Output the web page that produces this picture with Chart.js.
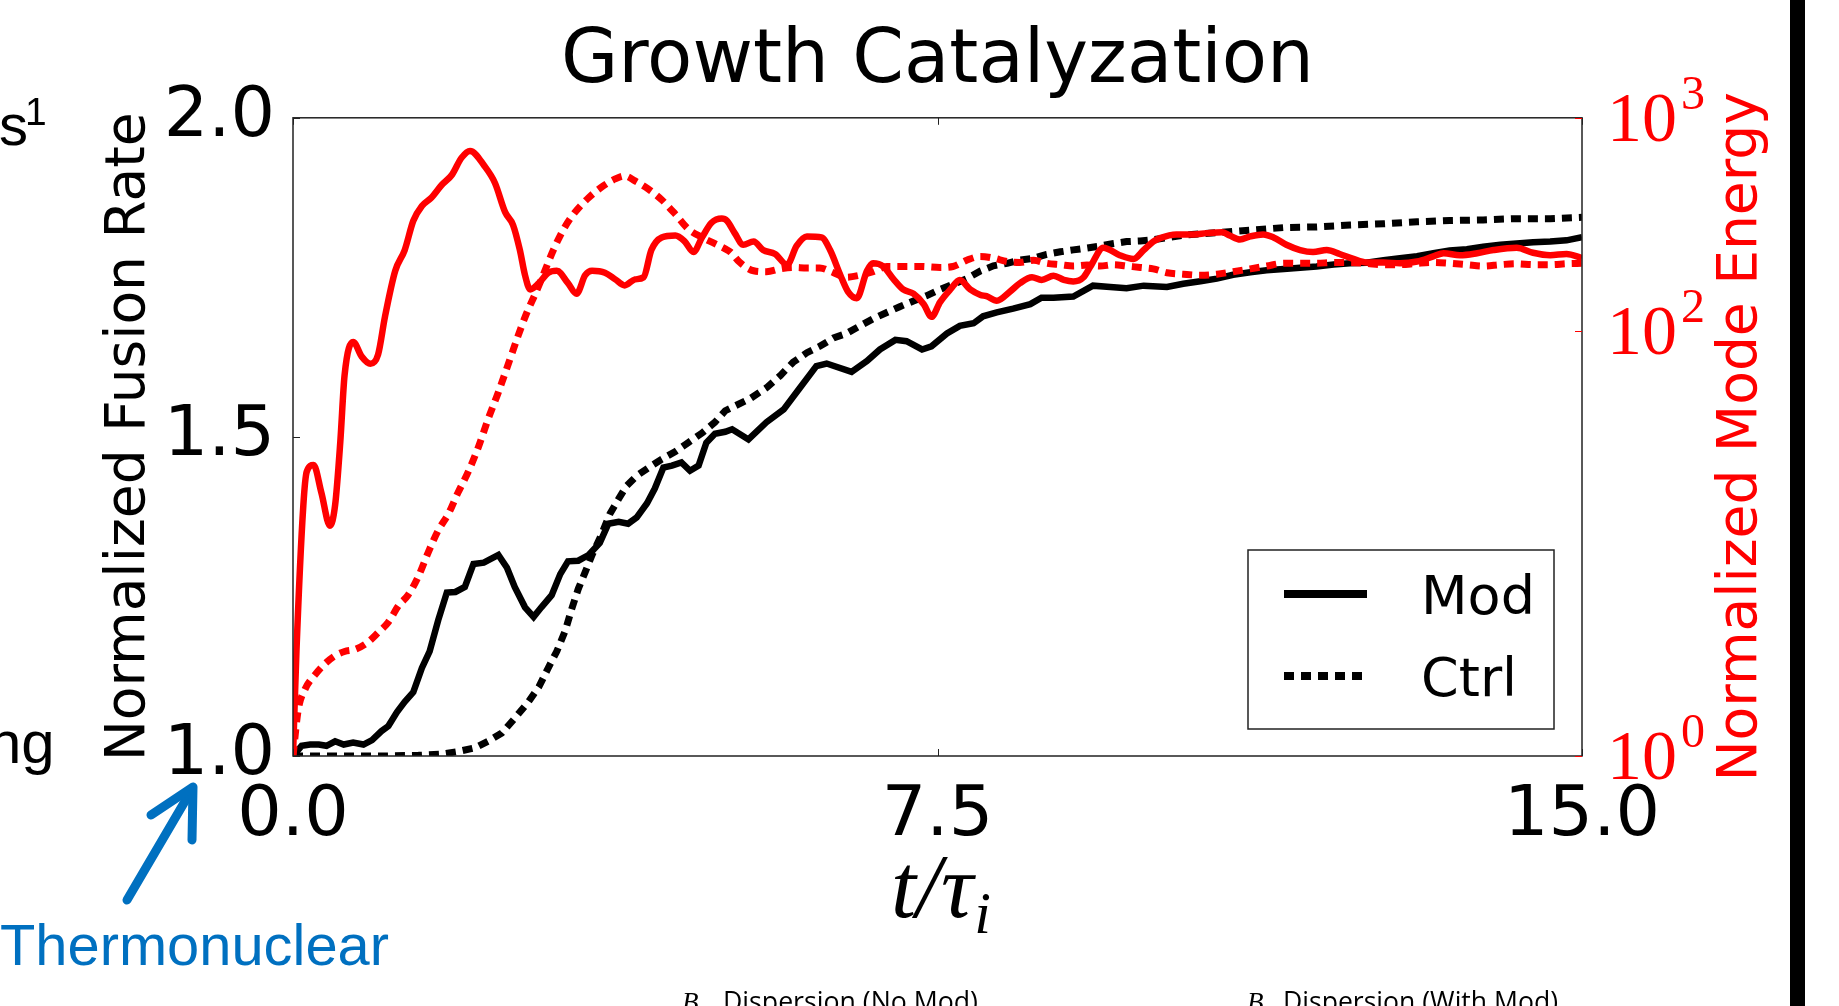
<!DOCTYPE html>
<html>
<head>
<meta charset="utf-8">
<title>Growth Catalyzation</title>
<script src="https://cdn.jsdelivr.net/npm/chart.js@4.4.1/dist/chart.umd.min.js"></script>
<style>
  html, body { margin: 0; padding: 0; background: #fff; }
  #wrap { position: relative; width: 1839px; height: 1006px; overflow: hidden; }
  #myChart { position: absolute; left: 0; top: 0; }
  #slide { position: absolute; left: 0; top: 0; pointer-events: none; }
</style>
</head>
<body>
<div id="wrap">
  <canvas id="myChart" width="1839" height="1006"></canvas>
  <svg id="slide" width="1839" height="1006" xmlns="http://www.w3.org/2000/svg">
    <text x="-1" y="145" font-family="Liberation Sans, Arial, sans-serif" font-size="58">s</text>
    <text x="25" y="125" font-family="Liberation Sans, Arial, sans-serif" font-size="39">1</text>
    <text x="-12" y="763" font-family="Liberation Sans, Arial, sans-serif" font-size="60">ng</text>
    <text x="0" y="965" font-family="Liberation Sans, Arial, sans-serif" font-size="58" fill="#0070c0"
          textLength="389" lengthAdjust="spacingAndGlyphs">Thermonuclear</text>
    <g stroke="#0070c0" stroke-width="9" stroke-linecap="round" stroke-linejoin="round" fill="none">
      <line x1="127" y1="900" x2="191" y2="791"/>
      <polyline points="151,815 193,787 192,840"/>
    </g>
    <text x="682" y="1011" font-family="Liberation Serif, serif" font-style="italic" font-size="27">B</text>
    <text x="723" y="1011" font-family="Open Sans, sans-serif" font-size="28"
          textLength="255" lengthAdjust="spacingAndGlyphs">Dispersion (No Mod)</text>
    <text x="1247" y="1011" font-family="Liberation Serif, serif" font-style="italic" font-size="27">B</text>
    <text x="1283" y="1011" font-family="Open Sans, sans-serif" font-size="28"
          textLength="275" lengthAdjust="spacingAndGlyphs">Dispersion (With Mod)</text>
    <rect x="1790" y="0" width="15" height="1006" fill="#000"/>
  </svg>
</div>
<script>
// Mode energy (right, log axis) and fusion rate (left axis) against t / tau_i

const modEnergyT = [0, 0.04, 0.12, 0.16, 0.24, 0.33, 0.43, 0.49, 0.55, 0.6, 0.7, 0.8, 0.9, 0.99, 1.07, 1.19, 1.3, 1.4, 1.5, 1.61,
    1.73, 1.85, 1.96, 2.06, 2.23, 2.35, 2.47, 2.56, 2.64, 2.7, 2.76, 2.86, 2.97, 3.07, 3.2, 3.3, 3.4, 3.48, 3.63, 3.75,
    3.86, 3.98, 4.08, 4.17, 4.29, 4.45, 4.56, 4.66, 4.76, 4.87, 4.99, 5.05, 5.14, 5.24, 5.36, 5.47, 5.61, 5.75, 5.86, 5.98,
    6.15, 6.25, 6.37, 6.46, 6.56, 6.68, 6.75, 6.87, 6.99, 7.1, 7.22, 7.34, 7.43, 7.53, 7.65, 7.76, 7.88, 8.0, 8.07, 8.19,
    8.34, 8.46, 8.6, 8.71, 8.85, 8.97, 9.08, 9.2, 9.28, 9.43, 9.62, 9.78, 9.9, 10.01, 10.09, 10.28, 10.48, 10.63, 10.81, 10.9,
    11.02, 11.14, 11.29, 11.41, 11.56, 11.72, 11.87, 12.03, 12.18, 12.34, 12.49, 12.69, 12.88, 13.08, 13.27, 13.39, 13.58, 13.78, 13.97, 14.24,
    14.43, 14.63, 14.82, 15.0];
const modEnergy = [1, 3.1, 15, 21.7, 23.3, 17.3, 12.1, 15.1, 29.8, 61.5, 88.4, 75.4, 69.8, 77.1, 116, 191, 239, 328, 385, 421,
    483, 540, 648, 699, 592, 494, 359, 314, 239, 182, 156, 167, 187, 191, 167, 149, 182, 191, 187, 174,
    163, 174, 178, 239, 274, 280, 262, 234, 274, 321, 336, 328, 287, 253, 262, 239, 229, 204, 250, 277,
    274, 239, 182, 152, 142, 191, 207, 200, 174, 156, 149, 133, 116, 136, 156, 173, 156, 147, 145, 138,
    152, 167, 178, 173, 181, 173, 170, 178, 200, 245, 226, 217, 239, 262, 272, 283, 283, 287, 290, 280,
    268, 277, 283, 274, 253, 239, 234, 239, 229, 217, 209, 209, 207, 211, 223, 231, 226, 231, 239, 245,
    232, 226, 229, 219];

const ctrlEnergyT = [0, 0.06, 0.14, 0.26, 0.37, 0.49, 0.6, 0.72, 0.86, 0.99, 1.11, 1.23, 1.34, 1.46, 1.58, 1.69, 1.81, 1.92, 2.04, 2.16,
    2.27, 2.39, 2.51, 2.62, 2.72, 2.82, 2.91, 3.03, 3.15, 3.28, 3.44, 3.59, 3.75, 3.86, 3.98, 4.14, 4.29, 4.45, 4.6, 4.76,
    4.91, 5.03, 5.09, 5.2, 5.36, 5.51, 5.67, 5.82, 5.98, 6.13, 6.29, 6.44, 6.6, 6.75, 6.91, 7.06, 7.3, 7.53, 7.68, 7.84,
    8.0, 8.15, 8.31, 8.46, 8.62, 8.77, 8.93, 9.08, 9.24, 9.39, 9.55, 9.7, 9.86, 10.01, 10.17, 10.36, 10.56, 10.75, 10.94, 11.14,
    11.33, 11.53, 11.72, 11.91, 12.11, 12.3, 12.49, 12.69, 12.88, 13.08, 13.27, 13.46, 13.66, 13.85, 14.05, 14.24, 14.43, 14.63, 14.82, 15.0];
const ctrlEnergy = [1, 1.64, 2.06, 2.42, 2.71, 2.96, 3.1, 3.17, 3.4, 3.8, 4.26, 5.1, 5.71, 7.0, 9.19, 11.5, 13.8, 17.3, 21.7, 28.5,
    38.3, 51.3, 70.5, 94.6, 121, 149, 182, 239, 300, 359, 421, 472, 516, 533, 505, 461, 412, 352, 300, 274,
    256, 242, 234, 209, 191, 189, 195, 198, 197, 197, 187, 178, 182, 189, 200, 200, 200, 198, 200, 214,
    223, 219, 211, 209, 214, 207, 204, 201, 203, 201, 204, 201, 198, 195, 187, 184, 182, 184, 189, 195,
    201, 207, 207, 207, 209, 209, 207, 204, 204, 207, 209, 207, 204, 201, 204, 206, 204, 204, 206, 207];

const modRateT = [0, 0.1, 0.2, 0.3, 0.39, 0.49, 0.59, 0.7, 0.82, 0.92, 1.03, 1.11, 1.21, 1.3, 1.4, 1.5, 1.59, 1.69, 1.79, 1.89,
    2.0, 2.1, 2.22, 2.39, 2.49, 2.58, 2.7, 2.8, 2.89, 3.01, 3.11, 3.2, 3.32, 3.44, 3.57, 3.67, 3.79, 3.9, 4.0, 4.12,
    4.21, 4.31, 4.41, 4.52, 4.62, 4.72, 4.81, 4.91, 5.03, 5.11, 5.3, 5.51, 5.71, 5.9, 6.09, 6.21, 6.5, 6.68, 6.83, 7.01,
    7.14, 7.32, 7.43, 7.61, 7.76, 7.92, 8.03, 8.19, 8.38, 8.58, 8.71, 8.85, 9.08, 9.31, 9.51, 9.7, 9.9, 10.17, 10.36, 10.56,
    10.75, 10.94, 11.14, 11.33, 11.53, 11.72, 11.91, 12.11, 12.3, 12.49, 12.69, 12.88, 13.08, 13.27, 13.46, 13.66, 13.85, 14.05, 14.24, 14.43,
    14.63, 14.82, 15.0];
const modRate = [1.0, 1.016, 1.018, 1.018, 1.016, 1.023, 1.018, 1.021, 1.018, 1.025, 1.039, 1.047, 1.069, 1.085, 1.1, 1.138, 1.164, 1.213, 1.256, 1.257,
    1.265, 1.301, 1.303, 1.315, 1.295, 1.265, 1.233, 1.218, 1.233, 1.252, 1.285, 1.305, 1.306, 1.315, 1.334, 1.364, 1.367, 1.364, 1.374, 1.396,
    1.419, 1.452, 1.455, 1.46, 1.447, 1.455, 1.491, 1.505, 1.508, 1.512, 1.496, 1.523, 1.543, 1.577, 1.611, 1.615, 1.602, 1.619, 1.637, 1.652,
    1.65, 1.637, 1.642, 1.662, 1.674, 1.678, 1.689, 1.695, 1.701, 1.708, 1.718, 1.718, 1.72, 1.737, 1.735, 1.733, 1.737, 1.735, 1.74, 1.744,
    1.748, 1.754, 1.758, 1.761, 1.763, 1.765, 1.767, 1.77, 1.772, 1.773, 1.777, 1.78, 1.783, 1.788, 1.792, 1.794, 1.798, 1.801, 1.803, 1.805,
    1.806, 1.808, 1.813];

const ctrlRateT = [0, 0.3, 0.68, 1.07, 1.46, 1.73, 1.92, 2.12, 2.27, 2.43, 2.58, 2.74, 2.86, 2.97, 3.07, 3.17, 3.24, 3.32, 3.4, 3.48,
    3.59, 3.69, 3.79, 3.88, 4.0, 4.14, 4.29, 4.45, 4.6, 4.76, 4.91, 5.03, 5.12, 5.32, 5.51, 5.67, 5.82, 5.98, 6.13, 6.29,
    6.44, 6.6, 6.75, 6.91, 7.06, 7.22, 7.37, 7.53, 7.68, 7.84, 8.0, 8.15, 8.31, 8.46, 8.62, 8.77, 8.93, 9.08, 9.24, 9.39,
    9.55, 9.7, 9.86, 10.01, 10.36, 10.75, 11.14, 11.53, 11.91, 12.3, 12.69, 13.08, 13.46, 13.85, 14.24, 14.63, 15.0];
const ctrlRate = [1.0, 1.0, 1.0, 1.0, 1.001, 1.003, 1.007, 1.013, 1.023, 1.036, 1.059, 1.085, 1.108, 1.138, 1.164, 1.197, 1.229, 1.262, 1.288, 1.315,
    1.347, 1.38, 1.403, 1.423, 1.439, 1.452, 1.465, 1.477, 1.491, 1.506, 1.523, 1.541, 1.547, 1.56, 1.577, 1.596, 1.617, 1.632, 1.642, 1.655,
    1.662, 1.674, 1.685, 1.695, 1.704, 1.713, 1.721, 1.731, 1.739, 1.748, 1.76, 1.768, 1.772, 1.777, 1.78, 1.786, 1.79, 1.793, 1.796, 1.799,
    1.803, 1.806, 1.807, 1.809, 1.816, 1.82, 1.824, 1.828, 1.829, 1.832, 1.834, 1.837, 1.839, 1.84, 1.842, 1.842, 1.844];

const energyTicks = [1, 100, 1000];
const legendLabels = ['Mod', 'Ctrl'];

const RED = '#ff0000';
const DOTS = [10, 7];

const toPoints = (ts, vs) => ts.map((t, i) => ({x: t, y: vs[i]}));

Chart.defaults.font.family = 'DejaVu Sans';
Chart.defaults.color = '#000';

// frame, inward ticks, log labels, right/x titles and the legend box
const decorations = {
    id: 'decorations',
    afterDraw(chart) {
        const c = chart.ctx;
        const a = chart.chartArea;
        const xs = chart.scales.x, ys = chart.scales.y, es = chart.scales.yE;
        c.save();

        c.strokeStyle = '#222';
        c.lineWidth = 1.5;
        c.strokeRect(a.left, a.top, a.right - a.left, a.bottom - a.top);

        const tl = 7;
        c.lineWidth = 1;
        c.beginPath();
        xs.ticks.forEach(t => {
            const px = Math.round(xs.getPixelForValue(t.value)) + 0.5;
            c.moveTo(px, a.bottom); c.lineTo(px, a.bottom - tl);
            c.moveTo(px, a.top); c.lineTo(px, a.top + tl);
        });
        ys.ticks.forEach(t => {
            const py = Math.round(ys.getPixelForValue(t.value)) + 0.5;
            c.moveTo(a.left, py); c.lineTo(a.left + tl, py);
        });
        c.stroke();
        c.strokeStyle = RED;
        c.beginPath();
        energyTicks.forEach(v => {
            const py = Math.round(es.getPixelForValue(v)) + 0.5;
            c.moveTo(a.right, py); c.lineTo(a.right - tl, py);
        });
        c.stroke();

        // 10^n labels on the energy axis
        c.fillStyle = RED;
        c.textAlign = 'left';
        c.textBaseline = 'alphabetic';
        energyTicks.forEach(v => {
            const py = es.getPixelForValue(v);
            const x0 = a.right + 25;
            c.font = '70px "Liberation Serif", serif';
            c.fillText('10', x0, py + 23);
            const w = c.measureText('10').width;
            c.font = '48px "Liberation Serif", serif';
            c.fillText(String(Math.round(Math.log10(v))), x0 + w + 4, py - 9);
        });

        // right axis title, reading bottom to top
        c.save();
        c.translate(1756, (a.top + a.bottom) / 2);
        c.rotate(-Math.PI / 2);
        c.textAlign = 'center';
        c.font = '55px "DejaVu Sans"';
        c.fillText('Normalized Mode Energy', 0, 0);
        c.restore();

        // x axis title t / tau_i
        c.fillStyle = '#000';
        c.font = 'italic 90px "Liberation Serif", serif';
        const main = 't/\u03c4';
        const w1 = c.measureText(main).width;
        c.font = 'italic 60px "Liberation Serif", serif';
        const w2 = c.measureText('i').width;
        const x0 = (a.left + a.right) / 2 + 3 - (w1 + w2) / 2;
        c.font = 'italic 90px "Liberation Serif", serif';
        c.fillText(main, x0, 917);
        c.font = 'italic 60px "Liberation Serif", serif';
        c.fillText('i', x0 + w1 + 1, 933);

        // legend
        const lx = 1248, ly = 550, lw = 306, lh = 179;
        c.fillStyle = '#fff';
        c.fillRect(lx, ly, lw, lh);
        c.strokeStyle = '#222';
        c.lineWidth = 1.5;
        c.strokeRect(lx, ly, lw, lh);
        const rows = [{y: 594, dash: []}, {y: 676, dash: DOTS}];
        rows.forEach((r, i) => {
            c.strokeStyle = '#000';
            c.lineWidth = 8;
            c.lineCap = 'butt';
            c.setLineDash(r.dash);
            c.beginPath();
            c.moveTo(1284, r.y);
            c.lineTo(1367, r.y);
            c.stroke();
            c.setLineDash([]);
            c.fillStyle = '#000';
            c.font = '54px "DejaVu Sans"';
            c.textBaseline = 'alphabetic';
            c.fillText(legendLabels[i], 1421, r.y + 20);
        });

        c.restore();
    }
};

const ctx = document.getElementById('myChart').getContext('2d');

const myChart = new Chart(ctx, {
    type: 'line',
    data: {
        datasets: [{
            label: 'Mod energy',
            data: toPoints(modEnergyT, modEnergy),
            yAxisID: 'yE',
            borderColor: RED,
            borderWidth: 6.5,
            cubicInterpolationMode: 'monotone',
            pointRadius: 0
        }, {
            label: 'Ctrl energy',
            data: toPoints(ctrlEnergyT, ctrlEnergy),
            yAxisID: 'yE',
            borderColor: RED,
            borderWidth: 7,
            borderDash: DOTS,
            cubicInterpolationMode: 'monotone',
            pointRadius: 0
        }, {
            label: 'Mod rate',
            data: toPoints(modRateT, modRate),
            yAxisID: 'y',
            borderColor: '#000',
            borderWidth: 6.5,
            tension: 0,
            pointRadius: 0
        }, {
            label: 'Ctrl rate',
            data: toPoints(ctrlRateT, ctrlRate),
            yAxisID: 'y',
            borderColor: '#000',
            borderWidth: 7,
            borderDash: DOTS,
            tension: 0,
            pointRadius: 0
        }]
    },
    options: {
        responsive: false,
        animation: false,
        events: [],
        layout: {padding: 0},
        plugins: {
            legend: {display: false},
            tooltip: {enabled: false},
            title: {
                display: true,
                text: 'Growth Catalyzation',
                fullSize: false,
                color: '#000',
                font: {family: 'DejaVu Sans', size: 74, weight: 'normal'},
                padding: {top: 18, bottom: 11}
            }
        },
        scales: {
            x: {
                type: 'linear',
                min: 0,
                max: 15,
                grid: {display: false, drawTicks: false},
                border: {display: false},
                ticks: {
                    stepSize: 7.5,
                    autoSkip: false,
                    maxRotation: 0,
                    padding: 19,
                    font: {size: 70},
                    callback: v => v.toFixed(1)
                },
                afterFit(scale) { scale.height = 250; }
            },
            y: {
                position: 'left',
                min: 1,
                max: 2,
                grid: {display: false, drawTicks: false},
                border: {display: false},
                ticks: {
                    stepSize: 0.5,
                    padding: 18,
                    font: {size: 70},
                    callback: v => v.toFixed(1)
                },
                title: {
                    display: true,
                    text: 'Normalized Fusion Rate',
                    font: {size: 55},
                    padding: {top: 97, bottom: 0}
                },
                afterFit(scale) { scale.width = 293; }
            },
            yE: {
                type: 'logarithmic',
                position: 'right',
                min: 1,
                max: 1000,
                grid: {display: false, drawTicks: false},
                border: {display: false},
                ticks: {display: false},
                afterBuildTicks(scale) {
                    scale.ticks = energyTicks.map(v => ({value: v}));
                },
                afterFit(scale) { scale.width = 257; }
            }
        }
    },
    plugins: [decorations]
});
</script>
</body>
</html>
